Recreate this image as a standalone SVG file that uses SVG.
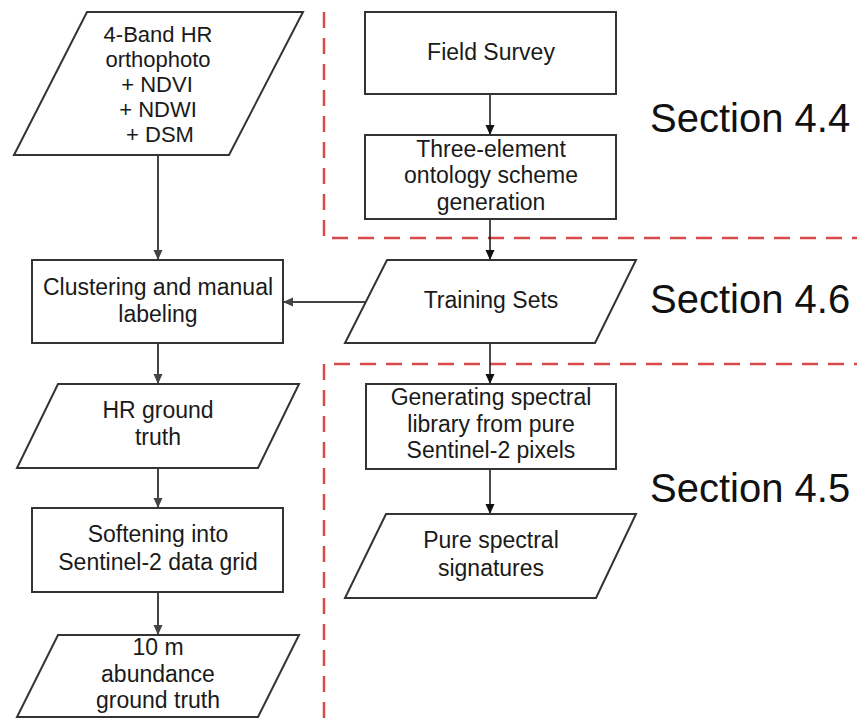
<svg xmlns="http://www.w3.org/2000/svg" width="857" height="718" viewBox="0 0 857 718">
  <style>
    .box { fill: #ffffff; stroke: #333333; stroke-width: 2; }
    .t { font-family: "Liberation Sans", Arial, sans-serif; font-size: 23px; fill: #1a1a1a; text-anchor: middle; }
    .t22 { font-size: 22px; }
    .sec { font-family: "Liberation Sans", Arial, sans-serif; font-size: 40px; fill: #111111; }
    .conL { stroke: #444444; stroke-width: 2; fill: none; }
    .conR { stroke: #111111; stroke-width: 1.5; fill: none; }
    .zone { stroke: #d94a4a; stroke-width: 2.5; fill: none; stroke-dasharray: 16 10; }
  </style>
  <defs>
    <marker id="arrL" viewBox="0 0 10 10" refX="10" refY="5" markerWidth="10" markerHeight="10" markerUnits="userSpaceOnUse" orient="auto">
      <path d="M0,0.5 L10,5 L0,9.5 z" fill="#444444"/>
    </marker>
    <marker id="arrR" viewBox="0 0 10 10" refX="10" refY="5" markerWidth="10" markerHeight="10" markerUnits="userSpaceOnUse" orient="auto">
      <path d="M0,0.5 L10,5 L0,9.5 z" fill="#111111"/>
    </marker>
  </defs>
  <rect width="857" height="718" fill="#ffffff"/>

  <g id="zones">
    <path class="zone" d="M324,12 V238 H857"/>
    <path class="zone" d="M324,718 V364 H857"/>
  </g>

  <g id="connectors">
    <line class="conL" x1="158" y1="155" x2="158" y2="260" marker-end="url(#arrL)"/>
    <line class="conL" x1="158" y1="343" x2="158" y2="384" marker-end="url(#arrL)"/>
    <line class="conL" x1="158" y1="468" x2="158" y2="508" marker-end="url(#arrL)"/>
    <line class="conL" x1="158" y1="592" x2="158" y2="635" marker-end="url(#arrL)"/>
    <line class="conR" x1="490" y1="94" x2="490" y2="135" marker-end="url(#arrR)"/>
    <line class="conR" x1="490" y1="219" x2="490" y2="260" marker-end="url(#arrR)"/>
    <line class="conR" x1="490" y1="343" x2="490" y2="384" marker-end="url(#arrR)"/>
    <line class="conR" x1="490" y1="469" x2="490" y2="514" marker-end="url(#arrR)"/>
    <line class="conL" x1="366" y1="302" x2="283" y2="302" marker-end="url(#arrL)"/>
  </g>

  <g id="orthophoto">
    <polygon class="box" points="87,12 303,12 229,155 14,155"/>
    <text class="t t22" x="158" y="42">4-Band HR</text>
    <text class="t t22" x="158" y="67">orthophoto</text>
    <text class="t t22" x="157" y="92">+ NDVI</text>
    <text class="t t22" x="158" y="117">+ NDWI</text>
    <text class="t t22" x="160" y="142">+ DSM</text>
  </g>

  <g id="clustering">
    <rect class="box" x="32" y="260" width="251" height="83"/>
    <text class="t" x="158" y="295">Clustering and manual</text>
    <text class="t" x="158" y="322">labeling</text>
  </g>

  <g id="hr-ground-truth">
    <polygon class="box" points="58,384 299,384 258,468 17,468"/>
    <text class="t" x="158" y="418">HR ground</text>
    <text class="t" x="158" y="445">truth</text>
  </g>

  <g id="softening">
    <rect class="box" x="32" y="508" width="251" height="84"/>
    <text class="t" x="158" y="542">Softening into</text>
    <text class="t" x="158" y="570">Sentinel-2 data grid</text>
  </g>

  <g id="abundance-ground-truth">
    <polygon class="box" points="58,635 299,635 258,717 17,717"/>
    <text class="t" x="158" y="655">10 m</text>
    <text class="t" x="158" y="682">abundance</text>
    <text class="t" x="158" y="708">ground truth</text>
  </g>

  <g id="field-survey">
    <rect class="box" x="365" y="12" width="251" height="82"/>
    <text class="t" x="491" y="60">Field Survey</text>
  </g>

  <g id="ontology">
    <rect class="box" x="365" y="135" width="251" height="84"/>
    <text class="t" x="491" y="157">Three-element</text>
    <text class="t" x="491" y="183">ontology scheme</text>
    <text class="t" x="491" y="210">generation</text>
  </g>

  <g id="training-sets">
    <polygon class="box" points="387,260 636,260 595,343 345,343"/>
    <text class="t" x="491" y="308">Training Sets</text>
  </g>

  <g id="spectral-library">
    <rect class="box" x="366" y="384" width="250" height="85"/>
    <text class="t" x="491" y="405">Generating spectral</text>
    <text class="t" x="491" y="432">library from pure</text>
    <text class="t" x="491" y="458">Sentinel-2 pixels</text>
  </g>

  <g id="pure-signatures">
    <polygon class="box" points="386,514 636,514 596,598 345,598"/>
    <text class="t" x="491" y="548">Pure spectral</text>
    <text class="t" x="491" y="576">signatures</text>
  </g>

  <g id="section-labels">
    <text class="sec" x="650" y="132">Section 4.4</text>
    <text class="sec" x="650" y="313">Section 4.6</text>
    <text class="sec" x="650" y="502">Section 4.5</text>
  </g>
</svg>
